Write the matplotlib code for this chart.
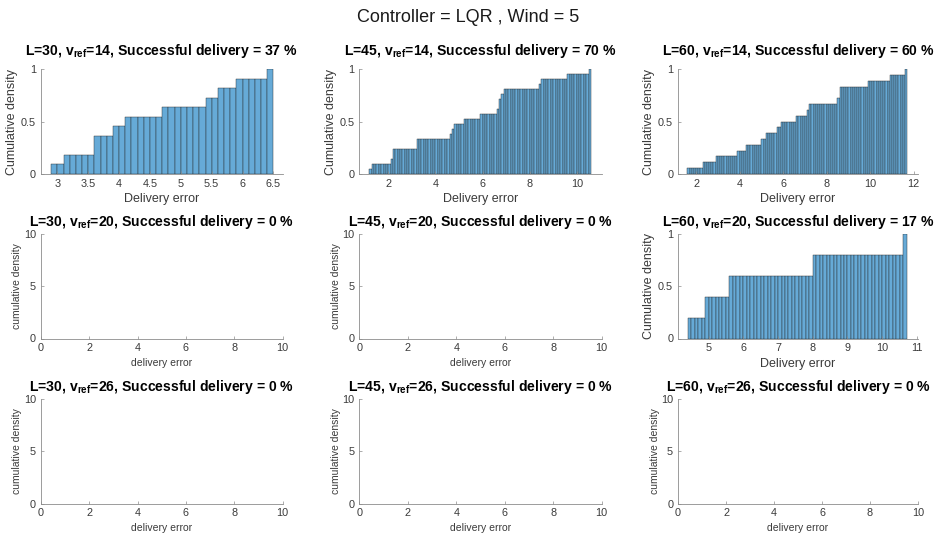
import numpy as np
import matplotlib.pyplot as plt

plt.rcParams.update({
    "font.family": "Liberation Sans",
    "mathtext.fontset": "custom",
    "mathtext.rm": "Liberation Sans",
    "mathtext.bf": "Liberation Sans:bold",
})

# Delivery errors of the successful runs (30 runs per case)
err_L30_v14 = [2.95, 3.15, 3.65, 3.65, 3.95, 4.15, 4.75, 5.45, 5.65, 5.95, 6.45]
err_L45_v14 = [1.25, 1.35, 2.15, 2.25, 2.25, 3.25, 3.25, 4.65, 4.75, 4.85, 5.25,
               5.95, 6.65, 6.75, 6.75, 6.85, 6.95, 8.45, 8.55, 9.65, 10.55]
err_L60_v14 = [1.65, 2.35, 2.95, 3.95, 4.35, 5.05, 5.25, 5.75, 5.95, 6.65, 7.15,
               7.25, 8.55, 8.65, 8.65, 9.95, 10.95, 11.65]
err_L60_v20 = [4.45, 4.95, 5.65, 8.05, 10.65]

lengths = [30, 45, 60]
v_refs = [14, 20, 26]
success = [[37, 70, 60],
           [0, 0, 17],
           [0, 0, 0]]

# histogram bin range and x-limits for the panels that have data
bin_width = 0.1
cases = {
    (0, 0): (err_L30_v14, (2.9, 6.5), (2.73, 6.65), [3, 3.5, 4, 4.5, 5, 5.5, 6, 6.5]),
    (0, 1): (err_L45_v14, (1.2, 10.6), (0.77, 11.06), [2, 4, 6, 8, 10]),
    (0, 2): (err_L60_v14, (1.6, 11.7), (1.17, 12.2), [2, 4, 6, 8, 10, 12]),
    (1, 2): (err_L60_v20, (4.4, 10.7), (4.12, 11.03), [5, 6, 7, 8, 9, 10, 11]),
}

W, H = 936, 536
fig = plt.figure(figsize=(W / 100, H / 100), dpi=100)
fig.text(0.5, 1 - 17 / H, "Controller = LQR , Wind = 5", ha="center", va="center",
         fontsize=13, color="#1a1a1a")

col_left = [40.7, 359.3, 678.0]
col_width = [242.0, 242.4, 240.0]
row_top = [69.3, 234.0, 399.0]
ax_h = 104.5
spine_col = "#8c8c8c"
text_col = "#3a3a3a"
face = "#66aad7"

for r in range(3):
    for c in range(3):
        x0, w, y0 = col_left[c], col_width[c], row_top[r]
        ax = fig.add_axes([x0 / W, 1 - (y0 + ax_h) / H, w / W, ax_h / H])
        for s in ["top", "right"]:
            ax.spines[s].set_visible(False)
        for s in ["left", "bottom"]:
            ax.spines[s].set_color(spine_col)
            ax.spines[s].set_linewidth(0.6)
        ax.tick_params(direction="in", length=2.5, width=0.5, colors=spine_col,
                       labelcolor=text_col, labelsize=7.8)

        if (r, c) in cases:
            err, (lo, hi), xl, xt = cases[(r, c)]
            edges = np.round(np.arange(lo, hi + bin_width / 2, bin_width), 2)
            ax.hist(err, bins=edges, density=True, cumulative=True,
                    facecolor=face, edgecolor="#262626", linewidth=0.3)
            ax.set_xlim(*xl)
            ax.set_ylim(0, 1)
            ax.set_xticks(xt)
            ax.set_xticklabels([f"{t:g}" for t in xt])
            ax.set_yticks([0, 0.5, 1])
            ax.set_yticklabels(["0", "0.5", "1"])
            ax.set_xlabel("Delivery error", fontsize=9, color=text_col, labelpad=3)
            ax.set_ylabel("Cumulative density", fontsize=9, color=text_col, labelpad=2)
        else:
            ax.set_xlim(0, 10)
            ax.set_ylim(0, 10)
            ax.set_xticks([0, 2, 4, 6, 8, 10])
            ax.set_yticks([0, 5, 10])
            ax.set_xlabel("delivery error", fontsize=7.5, color=text_col, labelpad=3)
            ax.set_ylabel("cumulative density", fontsize=7.5, color=text_col, labelpad=1)

        title = (f"L={lengths[c]}, v$_{{\\mathbf{{ref}}}}$={v_refs[r]}, "
                 f"Successful delivery = {success[r][c]} %")
        ax.set_title(title, fontsize=10.1, fontweight="bold", color="black",
                     pad=10 if r == 0 else 6)

fig.savefig("out.png", dpi=100)
